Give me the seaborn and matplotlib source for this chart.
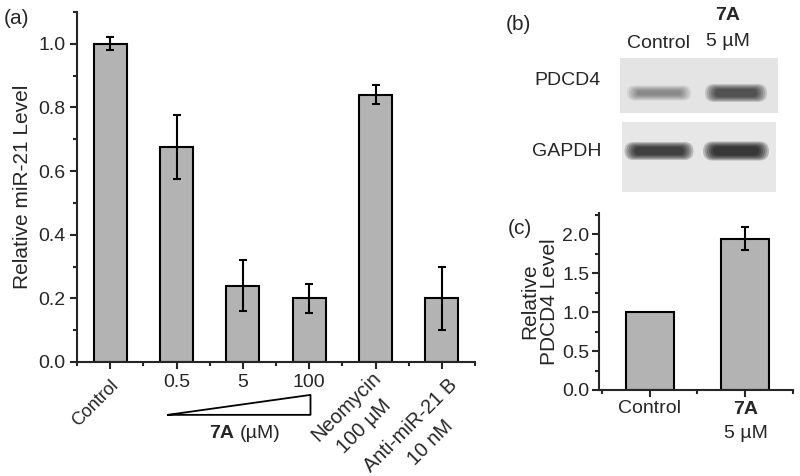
import numpy as np
import pandas as pd
import matplotlib
matplotlib.use("Agg")
import matplotlib.pyplot as plt
import matplotlib.transforms as mtransforms
from matplotlib.patches import FancyBboxPatch, Rectangle
from matplotlib.ticker import MultipleLocator
import seaborn as sns

# Panel (a) data
groups_a = ["Control", "0.5", "5", "100", "Neomycin\n100 µM", "Anti-miR-21 B\n10 nM"]
mir21_level = [1.00, 0.675, 0.24, 0.20, 0.84, 0.20]
mir21_err = [0.02, 0.10, 0.08, 0.045, 0.03, 0.10]

# Panel (c) data
groups_c = ["Control", "7A"]
pdcd4_level = [1.00, 1.94]
pdcd4_err = [0.0, 0.15]

# Panel (b) blot band darkness (0 = none, 1 = black)
blot_rows = ["PDCD4", "GAPDH"]
pdcd4_bands = [0.35, 0.70]
gapdh_bands = [0.85, 0.95]

sns.set_style("ticks")
plt.rcParams['font.family'] = ['Liberation Sans', 'DejaVu Sans']
plt.rcParams['font.size'] = 14

W, H = 800, 476
fig = plt.figure(figsize=(8, 4.76), dpi=100)


def px(x, y):
    # pixel position (from top-left) -> figure fraction
    return x / W, 1 - y / H


def box(x0, y0, x1, y1):
    return [x0 / W, 1 - y1 / H, (x1 - x0) / W, (y1 - y0) / H]


bar_color = "#b3b3b3"

# ---------------- panel (a) ----------------
ax = fig.add_axes(box(77, 12, 475, 362))
df_a = pd.DataFrame({"group": groups_a, "level": mir21_level})
sns.barplot(data=df_a, x="group", y="level", color=bar_color, width=0.5,
            edgecolor="black", linewidth=1.5, errorbar=None, ax=ax)
ax.errorbar(range(len(groups_a)), mir21_level, yerr=mir21_err, fmt="none",
            ecolor="black", elinewidth=1.5, capsize=3, capthick=1.5)
ax.set_xlim(-0.5, 5.5)
ax.set_ylim(0, 1.1)
ax.yaxis.set_minor_locator(MultipleLocator(0.1))
ax.xaxis.set_minor_locator(MultipleLocator(1.0, offset=0.5))
ax.set_yticks(np.arange(0, 1.01, 0.2))
ax.set_yticklabels([f"{v:.1f}" for v in np.arange(0, 1.01, 0.2)])
# rotated labels are drawn separately below
ax.set_xticks(range(len(groups_a)))
ax.set_xticklabels([g if i in (1, 2, 3) else "" for i, g in enumerate(groups_a)])
ax.tick_params(axis="both", direction="out", width=1.5, length=5, labelsize=14)
ax.tick_params(which="minor", direction="out", width=1.5, length=3)
ax.set_xlabel("")
ax.set_ylabel("Relative miR-21 Level", fontsize=15, labelpad=4)
for s in ["top", "right"]:
    ax.spines[s].set_visible(False)
for s in ["left", "bottom"]:
    ax.spines[s].set_linewidth(1.5)

# rotated category labels (line centres in pixels)
rot_pos = {0: [(95, 403)], 4: [(346, 407), (364, 426)], 5: [(411, 426), (431, 443)]}
rot_size = {0: 13, 4: 14.5, 5: 14.2}
for i, centres in rot_pos.items():
    for line, (cx, cy) in zip(groups_a[i].split("\n"), centres):
        fig.text(*px(cx, cy), line, fontsize=rot_size[i], rotation=45,
                 rotation_mode="anchor", ha="center", va="center")

# dose triangle under 0.5 .. 100
trans = mtransforms.blended_transform_factory(ax.transData, ax.transAxes)
ax.plot([0.87, 3.02, 3.02, 0.87], [-0.151, -0.094, -0.151, -0.151],
        color="black", lw=1.3, transform=trans, clip_on=False)
fig.text(*px(234, 433), "7A", fontsize=14, fontweight="bold", ha="right", va="center")
fig.text(*px(240, 433), "(µM)", fontsize=14, ha="left", va="center")
fig.text(*px(4, 18), "(a)", fontsize=15, ha="left", va="center")

# ---------------- panel (b) blot ----------------
axb = fig.add_axes(box(600, 50, 800, 200))
axb.set_xlim(600, 800)
axb.set_ylim(200, 50)
axb.axis("off")
axb.add_patch(Rectangle((620, 58), 158, 55, color="#e4e4e4", lw=0))
axb.add_patch(Rectangle((622, 122), 154, 70, color="#e7e7e7", lw=0))
lanes_x = [659, 736]
rows_y = [93, 151]
band_w = [[58, 56], [63, 60]]
band_h = [[11, 14], [14, 15]]
for r, bands in enumerate([pdcd4_bands, gapdh_bands]):
    for c, dark in enumerate(bands):
        for k in range(6):
            w = band_w[r][c] + 6 - k * 4
            h = band_h[r][c] + 4 - k * 2
            axb.add_patch(FancyBboxPatch((lanes_x[c] - w / 2, rows_y[r] - h / 2), w, h,
                                         boxstyle=f"round,pad=0,rounding_size={h / 2:.1f}",
                                         color="black", alpha=dark * 0.22, lw=0))
fig.text(*px(567, 80), blot_rows[0], fontsize=14, ha="center", va="center")
fig.text(*px(567, 152), blot_rows[1], fontsize=14, ha="center", va="center")
fig.text(*px(658, 43), "Control", fontsize=14, ha="center", va="center")
fig.text(*px(728, 15), "7A", fontsize=14, fontweight="bold", ha="center", va="center")
fig.text(*px(728, 42), "5 µM", fontsize=14, ha="center", va="center")
fig.text(*px(506, 25), "(b)", fontsize=15, ha="left", va="center")

# ---------------- panel (c) ----------------
axc = fig.add_axes(box(599, 213, 793, 390))
df_c = pd.DataFrame({"group": groups_c, "level": pdcd4_level})
sns.barplot(data=df_c, x="group", y="level", color=bar_color, width=0.5,
            edgecolor="black", linewidth=1.5, errorbar=None, ax=axc)
axc.errorbar([1], pdcd4_level[1:], yerr=pdcd4_err[1:], fmt="none",
             ecolor="black", elinewidth=1.5, capsize=3, capthick=1.5)
axc.set_xlim(-0.53, 1.5)
axc.set_ylim(0, 2.27)
axc.yaxis.set_minor_locator(MultipleLocator(0.25))
axc.xaxis.set_minor_locator(MultipleLocator(1.0, offset=0.5))
axc.set_yticks([0, 0.5, 1.0, 1.5, 2.0])
axc.set_yticklabels(["0.0", "0.5", "1.0", "1.5", "2.0"])
axc.set_xticks([0, 1])
axc.set_xticklabels([groups_c[0], ""])
axc.tick_params(axis="both", direction="out", width=1.5, length=5, labelsize=14, pad=2)
axc.tick_params(which="minor", direction="out", width=1.5, length=3)
axc.set_xlabel("")
axc.set_ylabel("Relative\nPDCD4 Level", fontsize=15, labelpad=2, linespacing=1.1)
for s in ["top", "right"]:
    axc.spines[s].set_visible(False)
for s in ["left", "bottom"]:
    axc.spines[s].set_linewidth(1.5)
fig.text(*px(746, 410), groups_c[1], fontsize=14, fontweight="bold", ha="center", va="center")
fig.text(*px(746, 433), "5 µM", fontsize=14, ha="center", va="center")
fig.text(*px(508, 228), "(c)", fontsize=15, ha="left", va="center")

fig.savefig("out.png", dpi=100)
